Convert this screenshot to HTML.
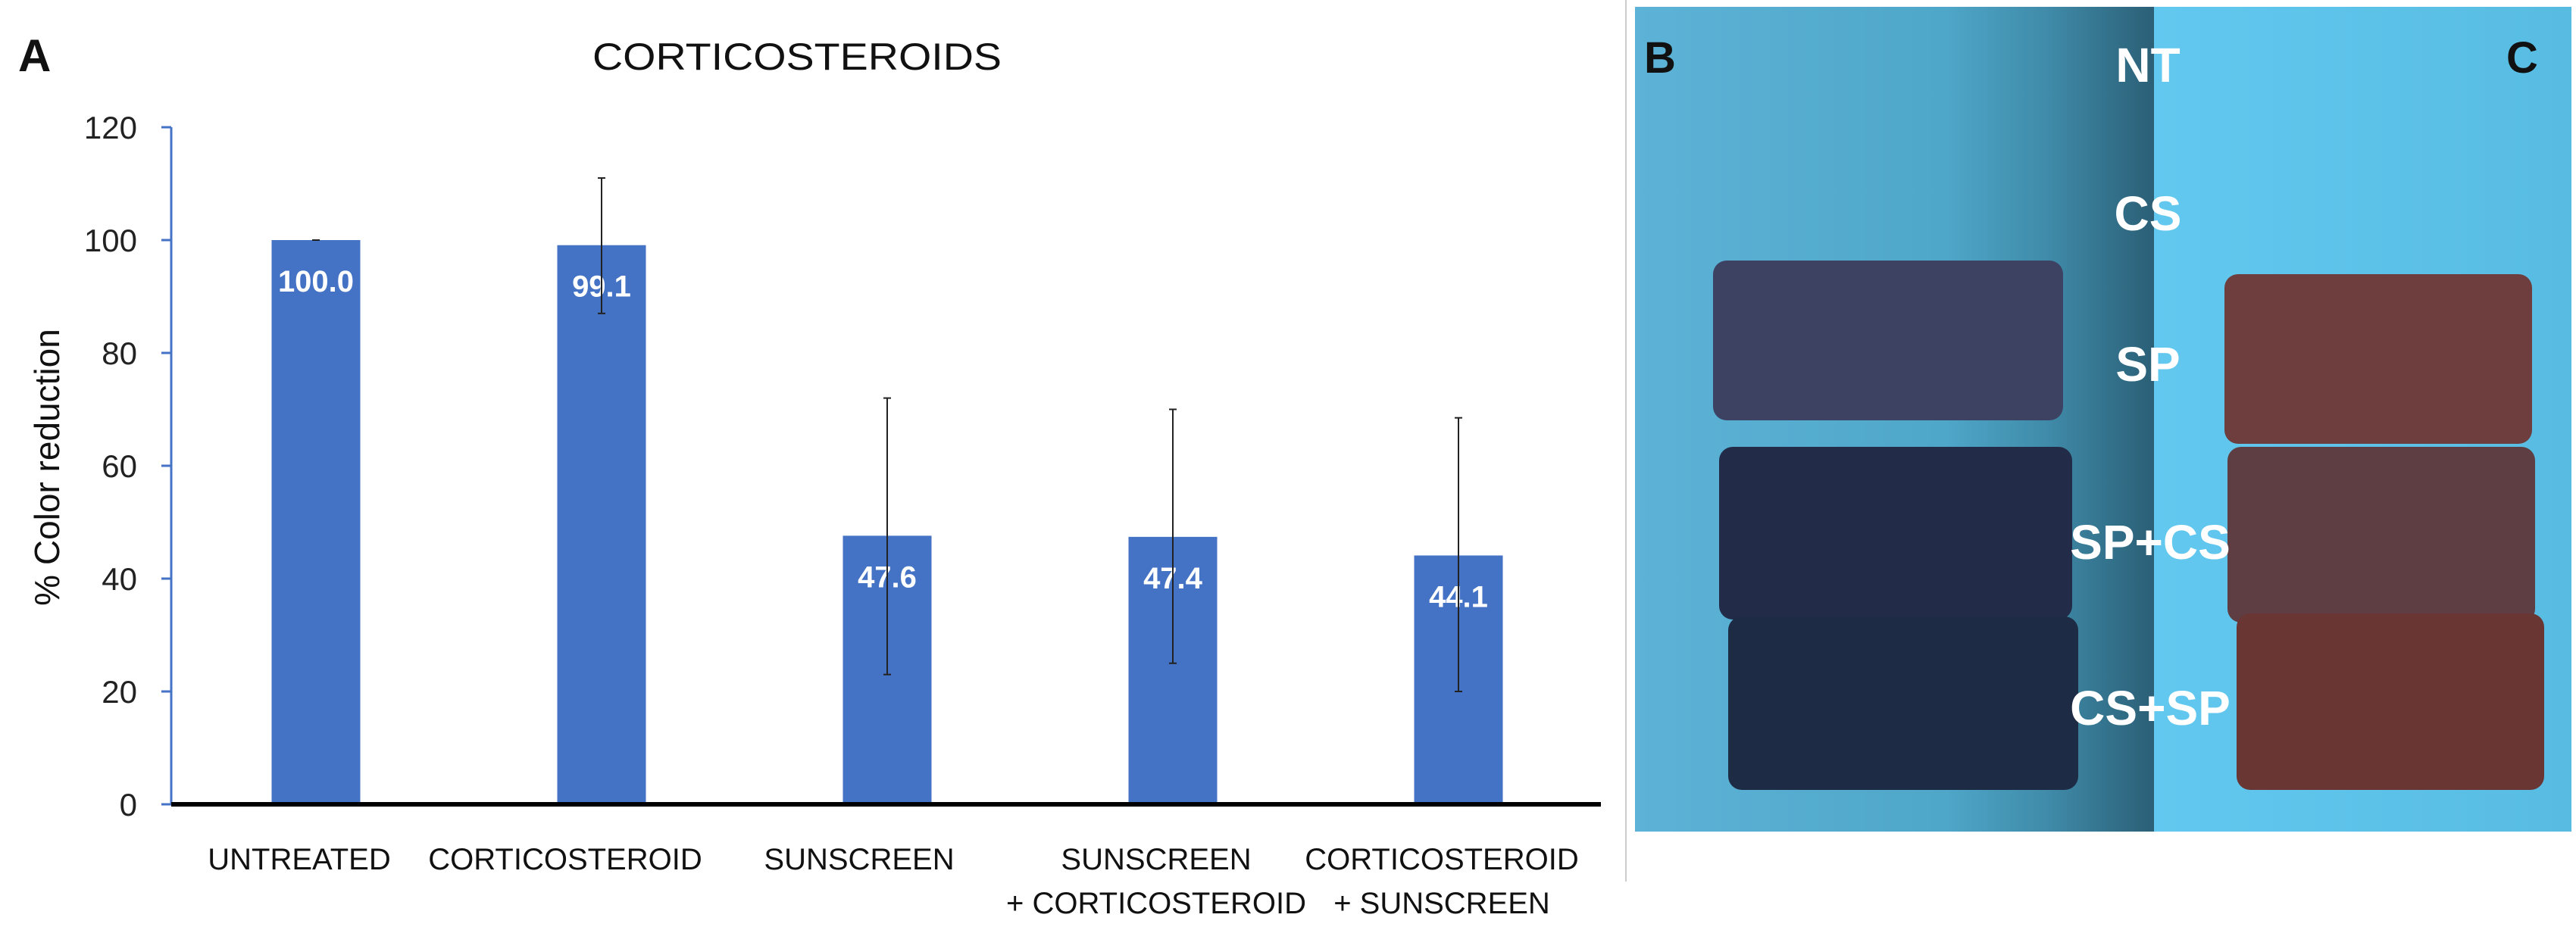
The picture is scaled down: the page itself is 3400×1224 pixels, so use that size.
<!DOCTYPE html>
<html><head><meta charset="utf-8"><style>
html,body{margin:0;padding:0;background:#fff;}
svg{display:block;}
</style></head><body>
<svg id="fig" width="3400" height="1224" viewBox="0 0 3400 1224" xmlns="http://www.w3.org/2000/svg">
<defs>
<linearGradient id="bgB" x1="0" x2="1" y1="0" y2="0">
<stop offset="0" stop-color="#5db3d7"/><stop offset="0.6" stop-color="#4ea6c8"/><stop offset="0.8" stop-color="#3f8aa8"/><stop offset="1" stop-color="#2b5f76"/>
</linearGradient>
<linearGradient id="bgC" x1="0" x2="1" y1="0" y2="0">
<stop offset="0" stop-color="#62c8ef"/><stop offset="1" stop-color="#58bce2"/>
</linearGradient>
</defs>
<text x="24" y="94" font-family="Liberation Sans, sans-serif" font-weight="bold" font-size="60" fill="#111">A</text>
<text x="1052" y="92" text-anchor="middle" font-family="Liberation Sans, sans-serif" font-size="50" fill="#111" textLength="540" lengthAdjust="spacingAndGlyphs">CORTICOSTEROIDS</text>
<text transform="translate(78,617) rotate(-90)" text-anchor="middle" font-family="Liberation Sans, sans-serif" font-size="46" fill="#111">% Color reduction</text>
<g id="chart"></g>

<g>
<line x1="2146" y1="0" x2="2146" y2="1164" stroke="#ccc" stroke-width="2"/>
<rect x="2158" y="9" width="685" height="1089" fill="url(#bgB)"/>
<rect x="2843" y="9" width="551" height="1089" fill="url(#bgC)"/>
<rect x="2261" y="344" width="462" height="211" rx="18" fill="#3d4263"/>
<rect x="2269" y="590" width="466" height="228" rx="18" fill="#222b47"/>
<rect x="2281" y="814" width="462" height="229" rx="18" fill="#1e2b45"/>
<rect x="2936" y="362" width="406" height="224" rx="18" fill="#6e3d3e"/>
<rect x="2940" y="590" width="406" height="232" rx="18" fill="#5f3e43"/>
<rect x="2952" y="810" width="406" height="233" rx="18" fill="#6a3633"/>
<g font-family="Liberation Sans, sans-serif" font-weight="bold" fill="#fff" font-size="64" text-anchor="middle">
<text x="2835" y="108">NT</text>
<text x="2835" y="304">CS</text>
<text x="2835" y="503">SP</text>
<text x="2838" y="738">SP+CS</text>
<text x="2838" y="957">CS+SP</text>
</g>
<text x="2170" y="96" font-family="Liberation Sans, sans-serif" font-weight="bold" font-size="58" fill="#111">B</text>
<text x="3308" y="96" font-family="Liberation Sans, sans-serif" font-weight="bold" font-size="58" fill="#111">C</text>
</g>
</svg>
<script>
const categories = [["UNTREATED"],["CORTICOSTEROID"],["SUNSCREEN"],["SUNSCREEN","+ CORTICOSTEROID"],["CORTICOSTEROID","+ SUNSCREEN"]];
const values = [100.0, 99.1, 47.6, 47.4, 44.1];
const errHigh = [100.0, 111, 72, 70, 68.5];
const errLow = [100.0, 87, 23, 25, 20];
const yTicks = [0,20,40,60,80,100,120];

const NS = "http://www.w3.org/2000/svg";
const g = document.getElementById("chart");
const x0 = 226, y0 = 1062, pxPerUnit = 894/120;
const firstCenter = 417, step = 377, barW = 117;
const yScale = v => y0 - v*pxPerUnit;
const xCenter = i => firstCenter + i*step;
function mk(tag, attrs){const e=document.createElementNS(NS,tag);for(const k in attrs)e.setAttribute(k,attrs[k]);g.appendChild(e);return e;}

const ax = mk("line",{x1:x0,y1:yScale(120),x2:x0,y2:y0,stroke:"#4472c4","stroke-width":3});


yTicks.forEach(t=>{
  const tl = mk("line",{x1:213,y1:yScale(t),x2:x0,y2:yScale(t),stroke:"#4472c4","stroke-width":3});
  
  
  const tx = mk("text",{x:181,y:yScale(t)+15,"text-anchor":"end","font-family":"Liberation Sans, sans-serif","font-size":42,fill:"#222"});
  tx.textContent = t;
  
  
});
values.forEach((v,i)=>{
  const cx = xCenter(i);
  const b = mk("rect",{x:cx-barW/2,y:yScale(v),width:barW,height:y0-yScale(v),fill:"#4472c4"});
  
  
  const vl = mk("text",{x:cx,y:yScale(v)+68,"text-anchor":"middle","font-family":"Liberation Sans, sans-serif","font-weight":"bold","font-size":40,fill:"#fff"});
  vl.textContent = v.toFixed(1);
  
  
  const el = mk("line",{x1:cx,y1:yScale(errHigh[i]),x2:cx,y2:yScale(errLow[i]),stroke:"#222","stroke-width":2});
  
  
  [errHigh[i],errLow[i]].forEach(e=>{
    const c = mk("line",{x1:cx-5,y1:yScale(e),x2:cx+5,y2:yScale(e),stroke:"#222","stroke-width":2});
    
    
  });
  categories[i].forEach((line,j)=>{
    const cl = mk("text",{x:cx+(j===1?-22:0)+(i===0?-22:0)+(i===1?-48:0)+(i===2?-37:0)+(i>=3&&j===0?-22:0),y:1148+j*58,"text-anchor":"middle","font-family":"Liberation Sans, sans-serif","font-size":40,fill:"#111"});
    cl.textContent = line;
    
    
  });
});
const xa = mk("line",{x1:x0,y1:y0,x2:2113,y2:y0,stroke:"#000","stroke-width":6});


</script>
</body></html>
